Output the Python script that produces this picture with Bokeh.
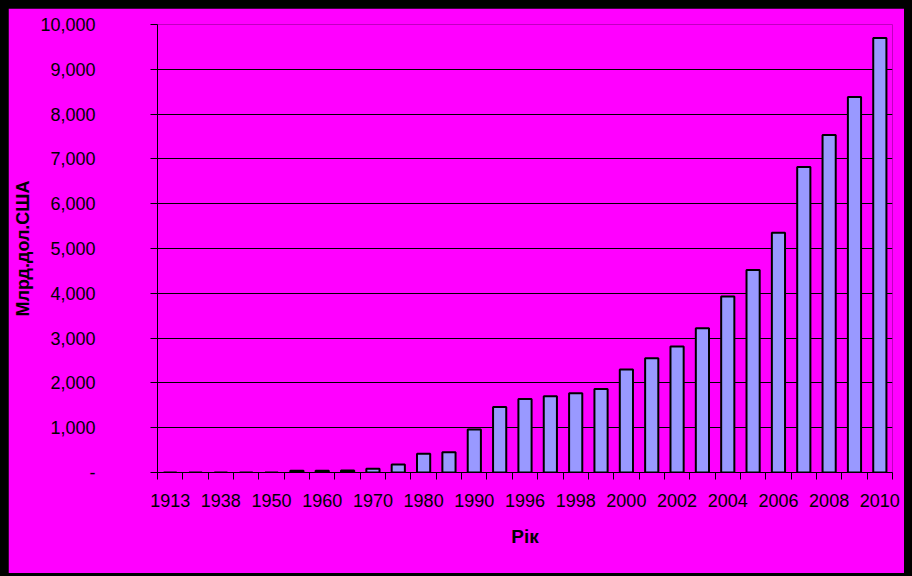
from bokeh.plotting import figure
from bokeh.models import (ColumnDataSource, Range1d, FixedTicker, NumeralTickFormatter,
                          GlobalInlineStyleSheet)
from bokeh.embed import file_html
from bokeh.resources import INLINE

# ---- data ----
years = ["1913", "1928", "1938", "1940", "1950", "1955", "1960", "1965", "1970", "1975",
         "1980", "1985", "1990", "1995", "1996", "1997", "1998", "1999", "2000", "2001",
         "2002", "2003", "2004", "2005", "2006", "2007", "2008", "2009", "2010"]
values = [0, 0, 0, 0, 0, 40, 40, 45, 85, 180,
          420, 450, 960, 1460, 1640, 1700, 1770, 1865, 2300, 2550,
          2815, 3220, 3930, 4520, 5350, 6820, 7535, 8380, 9700]
y_ticks = [0, 1000, 2000, 3000, 4000, 5000, 6000, 7000, 8000, 9000, 10000]
x_axis_title = "Рік"
y_axis_title = "Млрд.дол.США"

n = len(years)
xs = [i + 0.5 for i in range(n)]
src = ColumnDataSource(dict(x=xs, top=values, year=years))

MAGENTA = "#FF00FF"
FONT = "Liberation Sans"

p = figure(width=899, height=565, output_backend="svg", toolbar_location=None,
           x_range=Range1d(0, n), y_range=Range1d(0, 10000))
p.min_border_left = 149
p.min_border_right = 15
p.min_border_top = 16
p.min_border_bottom = 101
p.background_fill_color = MAGENTA
p.border_fill_color = MAGENTA
p.outline_line_color = None
p.stylesheets = [GlobalInlineStyleSheet(
    css="html,body{background:#000;overflow:hidden;} body{margin:8px;}")]

p.vbar(x="x", top="top", bottom=0, width=0.52, source=src,
       fill_color="#9999FF", line_color="#000000", line_width=2)

# grid
p.xgrid.visible = False
p.ygrid.ticker = FixedTicker(ticks=y_ticks)
p.ygrid.grid_line_color = "#000000"
p.ygrid.grid_line_width = 1

# y axis
ya = p.yaxis[0]
ya.ticker = FixedTicker(ticks=y_ticks)
ya.formatter = NumeralTickFormatter(format="0,0")
ya.major_label_overrides = {0: "-"}
ya.major_tick_out = 7
ya.major_tick_in = 0
ya.minor_tick_line_color = None
ya.major_label_standoff = 55
ya.axis_line_color = "#000000"
ya.major_tick_line_color = "#000000"
ya.major_label_text_font = FONT
ya.major_label_text_font_size = "18px"
ya.major_label_text_color = "#000000"
ya.axis_label = y_axis_title
ya.axis_label_text_font = FONT
ya.axis_label_text_font_size = "18px"
ya.axis_label_text_font_style = "bold"
ya.axis_label_text_color = "#000000"
ya.axis_label_standoff = 4

# x axis
label_ticks = [xs[i] for i in range(0, n, 2)]
xa = p.xaxis[0]
xa.ticker = FixedTicker(ticks=label_ticks, minor_ticks=list(range(n + 1)))
xa.major_label_overrides = {xs[i]: years[i] for i in range(0, n, 2)}
xa.major_tick_out = 0
xa.major_tick_in = 0
xa.minor_tick_out = 7
xa.minor_tick_in = 0
xa.minor_tick_line_color = "#000000"
xa.axis_line_color = "#000000"
xa.major_label_standoff = 14
xa.major_label_text_font = FONT
xa.major_label_text_font_size = "18px"
xa.major_label_text_color = "#000000"
xa.axis_label = x_axis_title
xa.axis_label_text_font = FONT
xa.axis_label_text_font_size = "19px"
xa.axis_label_text_font_style = "bold"
xa.axis_label_text_color = "#000000"
xa.axis_label_standoff = 16

open("out.html", "w").write(file_html(p, INLINE))
